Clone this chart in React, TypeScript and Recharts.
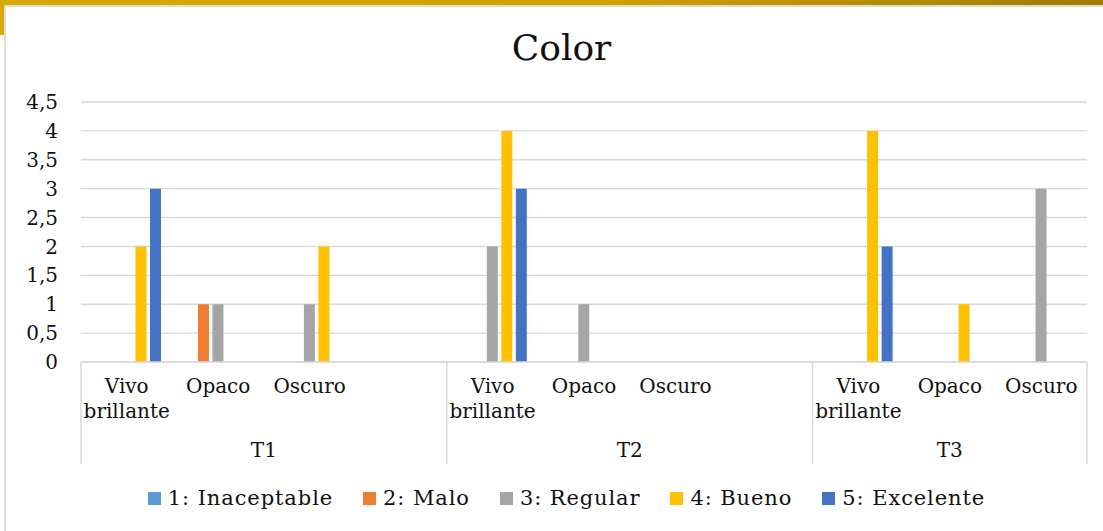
import React from 'react'
import { BarChart, Bar, XAxis, YAxis, CartesianGrid, Legend } from 'recharts'

const FONT = '"DejaVu Serif", "Liberation Serif", serif'
const TEXT = '#111111'
const GRID = '#D9D9D9'

// Grouped categories: T1 and T2 carry an empty fourth slot
const groups = ['T1', 'T2', 'T3']
const groupCategories = [
  ['Vivo brillante', 'Opaco', 'Oscuro', ''],
  ['Vivo brillante', 'Opaco', 'Oscuro', ''],
  ['Vivo brillante', 'Opaco', 'Oscuro'],
]

const seriesNames = ['1: Inaceptable', '2: Malo', '3: Regular', '4: Bueno', '5: Excelente']
const seriesColors = ['#5B9BD5', '#ED7D31', '#A5A5A5', '#FFC000', '#4472C4']

// one value per category slot, in order T1..T3 (null = no bar)
const inaceptable = [null, null, null, null, null, null, null, null, null, null, null]
const malo = [null, 1, null, null, null, null, null, null, null, null, null]
const regular = [null, 1, 1, null, 2, 1, null, null, null, null, 3]
const bueno = [2, null, 2, null, 4, null, null, null, 4, 1, null]
const excelente = [3, null, null, null, 3, null, null, null, 2, null, null]

const yTicks = [0, 0.5, 1, 1.5, 2, 2.5, 3, 3.5, 4, 4.5]

const seriesValues = [inaceptable, malo, regular, bueno, excelente]

const rows: Record<string, any>[] = []
groupCategories.forEach((cats, g) => {
  cats.forEach((label, j) => {
    const i = rows.length
    const row: Record<string, any> = {
      id: `${groups[g]}-${i}`,
      label,
      group: g,
      first: j === 0,
      groupSize: cats.length,
    }
    seriesValues.forEach((vals, s) => { row[`s${s}`] = vals[i] })
    rows.push(row)
  })
})

const PLOT_LEFT = 81
const PLOT_RIGHT_MARGIN = 16
const SEP_LEN = 102

// category label + multi-level group row (separators and T labels)
const CategoryTick = (props: any) => {
  const { x, y, payload } = props
  const i = payload.index
  const row = rows[i]
  const plotW = typeof props.width === 'number' && props.width > 0 ? props.width : 1103 - PLOT_LEFT - PLOT_RIGHT_MARGIN
  const band = plotW / rows.length
  const words = row.label ? row.label.split(' ') : []
  const left = x - band / 2
  return (
    <g>
      {words.length > 0 && (
        <text x={x} y={y} textAnchor="middle" fill={TEXT} fontSize={20} fontFamily={FONT}>
          {words.map((w: string, k: number) => (
            <tspan key={k} x={x} dy={k === 0 ? 31 : 25}>{w}</tspan>
          ))}
        </text>
      )}
      {row.first && (
        <>
          <line x1={left} x2={left} y1={y} y2={y + SEP_LEN} stroke={GRID} strokeWidth={1.5} />
          <text x={left + (band * row.groupSize) / 2} y={y + 95} textAnchor="middle" fill={TEXT} fontSize={20} fontFamily={FONT}>
            {groups[row.group]}
          </text>
        </>
      )}
      {i === rows.length - 1 && (
        <line x1={x + band / 2} x2={x + band / 2} y1={y} y2={y + SEP_LEN} stroke={GRID} strokeWidth={1.5} />
      )}
    </g>
  )
}

const renderLegend = () => (
  <div style={{ display: 'flex', justifyContent: 'center', alignItems: 'center', fontFamily: FONT, fontSize: 21, letterSpacing: 0.9, color: TEXT }}>
    {seriesNames.map((name, i) => (
      <div key={name} style={{ display: 'flex', alignItems: 'center', marginRight: i < seriesNames.length - 1 ? 30 : 0 }}>
        <span style={{ width: 13, height: 13, background: seriesColors[i], marginRight: 7, display: 'inline-block' }} />
        <span>{name}</span>
      </div>
    ))}
  </div>
)

export default function App() {
  return (
    <div style={{ position: 'absolute', left: 0, top: 0, width: 1103, height: 531, background: '#fff', overflow: 'hidden' }}>
      {/* frame */}
      <div style={{ position: 'absolute', left: 0, top: 0, width: 1103, height: 5, background: 'linear-gradient(90deg, #D8AA00 0%, #CFA200 55%, #A27B00 100%)' }} />
      <div style={{ position: 'absolute', left: 0, top: 0, width: 4, height: 35, background: '#D8AA00' }} />
      <div style={{ position: 'absolute', left: 4, top: 5, width: 1099, height: 2, background: '#DCDCDC' }} />
      <div style={{ position: 'absolute', left: 4, top: 5, width: 2, height: 526, background: '#DCDCDC' }} />

      <div style={{ position: 'absolute', left: 20, width: 1083, top: 27, textAlign: 'center', fontFamily: FONT, fontSize: 36, color: TEXT }}>
        Color
      </div>

      <div style={{ position: 'absolute', left: 0, top: 0 }}>
        <BarChart
          width={1103}
          height={531}
          data={rows}
          barSize={11}
          barGap={3.5}
          margin={{ top: 102, right: PLOT_RIGHT_MARGIN, bottom: 67, left: 0 }}
        >
          <CartesianGrid vertical={false} stroke={GRID} strokeWidth={1.4} />
          <XAxis
            dataKey="id"
            interval={0}
            height={102}
            axisLine={{ stroke: GRID, strokeWidth: 1.5 }}
            tickLine={false}
            tickSize={0}
            tickMargin={0}
            tick={<CategoryTick />}
          />
          <YAxis
            width={PLOT_LEFT}
            domain={[0, 4.5]}
            ticks={yTicks}
            axisLine={false}
            tickLine={false}
            tickSize={0}
            tickMargin={23}
            tick={{ fill: TEXT, fontSize: 20, fontFamily: FONT }}
            tickFormatter={(v: number) => String(v).replace('.', ',')}
          />
          <Legend
            layout="horizontal"
            verticalAlign="middle"
            align="center"
            wrapperStyle={{ top: 486, left: 15, width: 1103 }}
            content={renderLegend}
          />
          {seriesNames.map((name, i) => (
            <Bar key={name} dataKey={`s${i}`} name={name} fill={seriesColors[i]} isAnimationActive={false} />
          ))}
        </BarChart>
      </div>
    </div>
  )
}
